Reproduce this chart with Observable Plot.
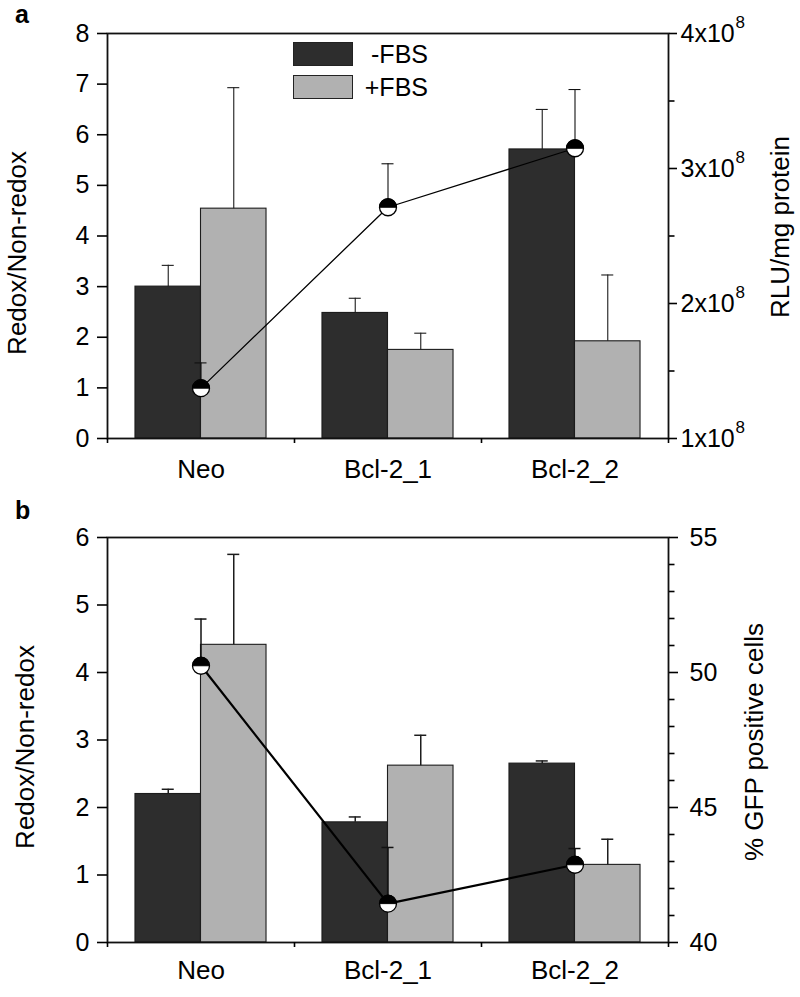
<!DOCTYPE html>
<html>
<head>
<meta charset="utf-8">
<script src="https://cdn.jsdelivr.net/npm/d3@7"></script>
<script src="https://cdn.jsdelivr.net/npm/@observablehq/plot@0.6"></script>
<style>
  body { margin: 0; background: #fff; }
  #root { position: relative; width: 800px; height: 997px; background: #fff; font-family: "Liberation Sans", Arial, sans-serif; overflow: hidden; }
  .panel { position: absolute; left: 0; width: 800px; }
  .panel svg { position: absolute; left: 0; top: 0; }
  .letter { position: absolute; font-weight: bold; font-size: 25px; line-height: 25px; }
  .swatch { position: absolute; width: 58px; height: 22px; border: 1px solid #222; }
  .ltext { position: absolute; font-size: 25px; height: 24px; line-height: 24px; text-align: right; width: 120px; }
</style>
</head>
<body>
<div id="root"></div>
<script>
// ---------- data ----------
const categories = ["Neo", "Bcl-2_1", "Bcl-2_2"];
const groups = ["-FBS", "+FBS"];
const groupColors = ["#2d2d2d", "#b1b1b1"];

// panel a
const aMinusFBS = [3.00, 2.48, 5.71];
const aMinusFBSErr = [0.42, 0.29, 0.79];
const aPlusFBS = [4.54, 1.75, 1.92];
const aPlusFBSErr = [2.39, 0.33, 1.31];
const aRLU = [1.373e8, 2.713e8, 3.15e8];
const aRLUErr = [0.187e8, 0.322e8, 0.435e8];
const aLeftTicks = [0, 1, 2, 3, 4, 5, 6, 7, 8];
const aRightTicks = [1e8, 2e8, 3e8, 4e8];
const aRightMinor = [1.5e8, 2.5e8, 3.5e8];

// panel b
const bMinusFBS = [2.20, 1.78, 2.65];
const bMinusFBSErr = [0.07, 0.08, 0.04];
const bPlusFBS = [4.41, 2.62, 1.15];
const bPlusFBSErr = [1.34, 0.45, 0.38];
const bGFP = [50.25, 41.44, 42.88];
const bGFPErr = [1.73, 2.08, 0.60];
const bLeftTicks = [0, 1, 2, 3, 4, 5, 6];
const bRightTicks = [40, 45, 50, 55];
const bRightMinor = [41, 42, 43, 44, 46, 47, 48, 49, 51, 52, 53, 54];

// ---------- helpers ----------
const FONT = '"Liberation Sans", Arial, sans-serif';
const root = document.getElementById("root");

const halfTop = {
  draw(ctx, size) {
    const r = Math.sqrt(size / Math.PI);
    ctx.moveTo(-r, 0);
    ctx.arc(0, 0, r, Math.PI, 2 * Math.PI);
    ctx.closePath();
  }
};

function barRows(minus, minusErr, plus, plusErr) {
  const rows = [];
  categories.forEach((c, i) => {
    rows.push({cat: c, group: groups[0], value: minus[i], top: minus[i] + minusErr[i]});
    rows.push({cat: c, group: groups[1], value: plus[i], top: plus[i] + plusErr[i]});
  });
  return rows;
}
function pointRows(vals, errs) {
  return categories.map((c, i) => ({cat: c, value: vals[i], top: vals[i] + errs[i]}));
}

function drawPanel(cfg) {
  const panel = document.createElement("div");
  panel.className = "panel";
  panel.style.top = cfg.top + "px";
  panel.style.height = cfg.height + "px";
  root.appendChild(panel);

  const dims = {
    width: 800, height: cfg.height,
    marginLeft: 107, marginRight: 132,
    marginTop: cfg.marginTop, marginBottom: cfg.marginBottom,
    style: {background: "transparent", fontFamily: FONT, overflow: "visible"}
  };

  const rows = barRows(cfg.minus, cfg.minusErr, cfg.plus, cfg.plusErr);
  const pts = pointRows(cfg.right, cfg.rightErr);

  // bars (faceted by category)
  const bars = Plot.plot({
    ...dims,
    fx: {domain: categories, padding: 0, axis: null, round: false},
    x: {domain: groups, paddingInner: 0, paddingOuter: 0.427, axis: null, round: false},
    y: {domain: cfg.leftDomain, axis: null},
    color: {domain: groups, range: groupColors},
    marks: [
      Plot.barY(rows, {fx: "cat", x: "group", y: "value", fill: "group", stroke: "#1c1c1c", strokeWidth: 1.1}),
      Plot.ruleX(rows, {fx: "cat", x: "group", y1: "value", y2: "top", stroke: "#1c1c1c", strokeWidth: cfg.errWidth}),
      Plot.tickY(rows, {fx: "cat", x: "group", y: "top", insetLeft: 26.75, insetRight: 26.75, stroke: "#1c1c1c", strokeWidth: cfg.errWidth})
    ]
  });

  // frame + left axis + category boundary ticks
  const frame = Plot.plot({
    ...dims,
    x: {type: "linear", domain: [0, categories.length]},
    y: {domain: cfg.leftDomain},
    marks: [
      Plot.frame({stroke: "#111", strokeWidth: 1.8}),
      Plot.axisY(cfg.leftTicks, {tickSize: 10, tickPadding: 8, tickFormat: d => String(d), fontSize: 25, label: null, strokeWidth: 1.6}),
      Plot.axisX(d3.range(categories.length + 1), {tickSize: 5, tickFormat: () => "", label: null, strokeWidth: 1.6}),
      Plot.text([cfg.leftLabel], {text: d => d, frameAnchor: "left", textAnchor: "middle", rotate: -90, dx: cfg.leftLabelDx, dy: cfg.leftLabelDy, fontSize: 26})
    ]
  });

  // right axis + line series
  const rightMarks = [
    Plot.axisX({tickSize: 0, tickPadding: cfg.xLabelPadding, fontSize: 26, label: null}),
    Plot.axisY(cfg.rightTicks, {anchor: "right", tickSize: cfg.rightTickSize, tickPadding: cfg.rightTickPadding, tickFormat: cfg.rightFormat, fontSize: 25, label: null, strokeWidth: 1.6}),
    Plot.axisY(cfg.rightMinor, {anchor: "right", tickSize: 5.5, tickFormat: () => "", label: null, strokeWidth: 1.6})
  ];
  if (cfg.superscript) {
    rightMarks.push(Plot.axisY(cfg.rightTicks, {anchor: "right", tickSize: 0, tickPadding: cfg.superscriptPadding, tickFormat: () => cfg.superscript, fontSize: 17, dy: -11, label: null}));
  }
  rightMarks.push(
    Plot.text([cfg.rightLabel], {text: d => d, frameAnchor: "right", textAnchor: "middle", rotate: -90, dx: cfg.rightLabelDx, dy: cfg.rightLabelDy, fontSize: 26}),
    Plot.ruleX(pts, {x: "cat", y1: "value", y2: "top", stroke: "#111", strokeWidth: cfg.errWidth}),
    Plot.tickY(pts, {x: "cat", y: "top", insetLeft: 87.5, insetRight: 87.5, stroke: "#111", strokeWidth: cfg.errWidth}),
    Plot.line(pts, {x: "cat", y: "value", stroke: "#000", strokeWidth: cfg.lineWidth}),
    Plot.dot(pts, {x: "cat", y: "value", r: 8.5, fill: "white", stroke: "#000", strokeWidth: 1.3}),
    Plot.dot(pts, {x: "cat", y: "value", r: 8.5, symbol: halfTop, fill: "#000", stroke: "#000", strokeWidth: 1})
  );
  const line = Plot.plot({
    ...dims,
    x: {domain: categories, padding: 0, round: false},
    y: {domain: cfg.rightDomain},
    marks: rightMarks
  });

  panel.appendChild(bars);
  panel.appendChild(frame);
  panel.appendChild(line);

  // panel letter
  const letter = document.createElement("div");
  letter.className = "letter";
  letter.textContent = cfg.letter;
  letter.style.left = "15px";
  letter.style.top = cfg.letterTop + "px";
  panel.appendChild(letter);

  // legend
  groups.forEach((g, i) => {
    const sw = document.createElement("div");
    sw.className = "swatch";
    sw.style.background = groupColors[i];
    sw.style.left = cfg.legendX + "px";
    sw.style.top = (cfg.legendY + i * 33) + "px";
    panel.appendChild(sw);
    const t = document.createElement("div");
    t.className = "ltext";
    t.textContent = g;
    t.style.left = (cfg.legendTextRight - 120) + "px";
    t.style.top = (cfg.legendY + i * 33) + "px";
    panel.appendChild(t);
  });
}

drawPanel({
  letter: "a", letterTop: 1.8,
  top: 0, height: 490, marginTop: 33, marginBottom: 52,
  minus: aMinusFBS, minusErr: aMinusFBSErr, plus: aPlusFBS, plusErr: aPlusFBSErr,
  right: aRLU, rightErr: aRLUErr,
  leftDomain: [0, 8], leftTicks: aLeftTicks,
  rightDomain: [1e8, 4e8], rightTicks: aRightTicks, rightMinor: aRightMinor,
  rightTickSize: 8, rightTickPadding: 4,
  rightFormat: d => `${d / 1e8}x10`, superscript: "8", superscriptPadding: 67,
  leftLabel: "Redox/Non-redox", leftLabelDx: -89.5, leftLabelDy: 17,
  rightLabel: "RLU/mg protein", rightLabelDx: 112, rightLabelDy: -9,
  errWidth: 1.1, lineWidth: 1.3, xLabelPadding: 21,
  legendX: 293, legendY: 42, legendTextRight: 428
});

drawPanel({
  letter: "b", letterTop: 8,
  top: 490, height: 507, marginTop: 47, marginBottom: 55,
  minus: bMinusFBS, minusErr: bMinusFBSErr, plus: bPlusFBS, plusErr: bPlusFBSErr,
  right: bGFP, rightErr: bGFPErr,
  leftDomain: [0, 6], leftTicks: bLeftTicks,
  rightDomain: [40, 55], rightTicks: bRightTicks, rightMinor: bRightMinor,
  rightTickSize: 9, rightTickPadding: 12,
  rightFormat: d => `${d}`, superscript: null,
  leftLabel: "Redox/Non-redox", leftLabelDx: -82, leftLabelDy: 7,
  rightLabel: "% GFP positive cells", rightLabelDx: 86, rightLabelDy: 2,
  errWidth: 1.5, lineWidth: 2.2, xLabelPadding: 18,
  legendX: 497, legendY: 548, legendTextRight: 633
});
</script>
</body>
</html>
